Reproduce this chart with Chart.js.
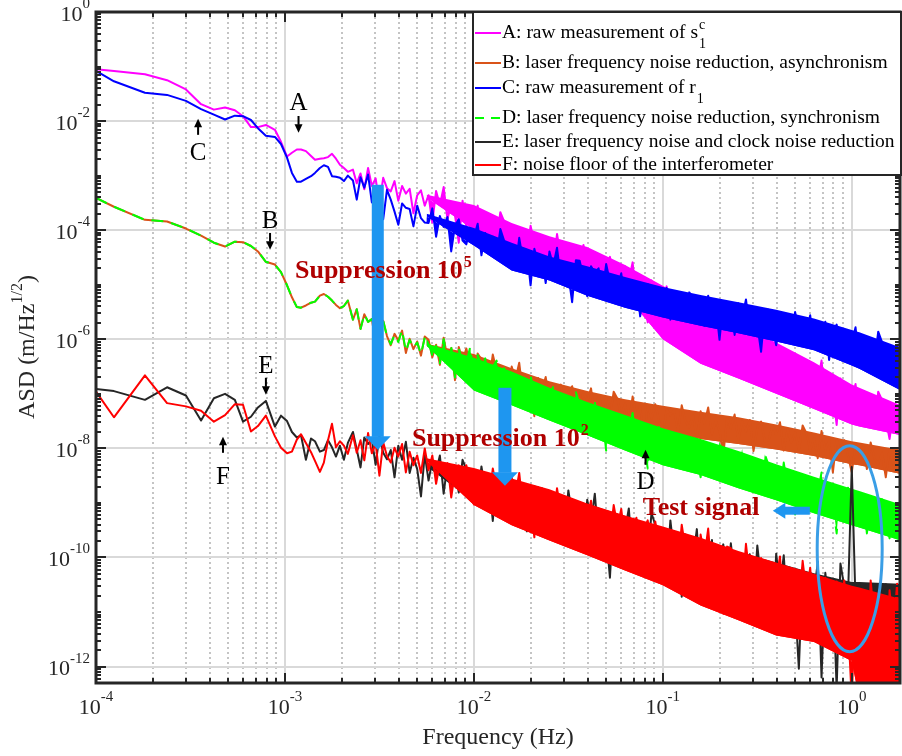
<!DOCTYPE html>
<html lang="en">
<head>
<meta charset="utf-8">
<title>ASD</title>
<script src="https://cdn.jsdelivr.net/npm/chart.js@4.4.1/dist/chart.umd.min.js"></script>
<style>
  html, body { margin: 0; padding: 0; background: #fff; }
  #grafica { display: block; }
</style>
</head>
<body>
<canvas id="grafica" width="902" height="756"></canvas>
<script>
// valores, en log10: frecuencia (Hz) y ASD (m/Hz^1/2)
const LOG_FREQ = [
  -4.000, -3.905, -3.741, -3.624, -3.524, -3.444, -3.376, -3.317, -3.265, -3.222,
  -3.180, -3.143, -3.101, -3.053, -3.021, -2.989, -2.963, -2.937, -2.915, -2.889,
  -2.862, -2.841, -2.815, -2.794, -2.772, -2.751, -2.730, -2.709, -2.688, -2.667,
  -2.64, -2.62, -2.60, -2.58, -2.56, -2.54, -2.52, -2.50, -2.48, -2.46,
  -2.44, -2.42, -2.40, -2.38, -2.36, -2.34, -2.32, -2.30, -2.28, -2.26,
  -2.24, -2.22, -2.20, -2.18, -2.16, -2.14, -2.12, -2.10, -2.08, -2.06,
  -2.04, -2.02, -2.00, -1.98, -1.96, -1.94, -1.92, -1.90, -1.88, -1.86,
  -1.84, -1.82, -1.80, -1.78, -1.76, -1.74, -1.72, -1.70, -1.68, -1.66,
  -1.64, -1.62, -1.60, -1.58, -1.56, -1.54, -1.52, -1.50, -1.48, -1.46,
  -1.44, -1.42, -1.40, -1.38, -1.36, -1.34, -1.32, -1.30, -1.28, -1.26,
  -1.24, -1.22, -1.20, -1.18, -1.16, -1.14, -1.12, -1.10, -1.08, -1.06,
  -1.04, -1.02, -1.00, -0.98, -0.96, -0.94, -0.92, -0.90, -0.88, -0.86,
  -0.84, -0.82, -0.80, -0.78, -0.76, -0.74, -0.72, -0.70, -0.68, -0.66,
  -0.64, -0.62, -0.60, -0.58, -0.56, -0.54, -0.52, -0.50, -0.48, -0.46,
  -0.44, -0.42, -0.40, -0.38, -0.36, -0.34, -0.32, -0.30, -0.28, -0.26,
  -0.24, -0.22, -0.20, -0.18, -0.16, -0.14, -0.12, -0.10, -0.08, -0.06,
  -0.04, -0.02, 0.00, 0.02, 0.04, 0.06, 0.08, 0.10, 0.12, 0.14,
  0.16, 0.18, 0.20, 0.22, 0.24, 0.26
];

// A: raw measurement of s1c
const LOG_A = [
  -1.05, -1.08, -1.14, -1.25, -1.42, -1.69, -1.79, -1.75, -1.80, -1.91,
  -2.11, -2.11, -2.07, -2.16, -2.38, -2.65, -2.58, -2.52, -2.52, -2.55,
  -2.64, -2.71, -2.69, -2.68, -2.66, -2.60, -2.69, -2.80, -2.86, -2.93,
  -2.89, -3.14, -2.96, -3.25, -2.86, -3.19, -3.05, -3.51, -3.04, -3.23,
  -3.29, -3.10, -3.46, -3.19, -3.33, -3.24, -3.69, -3.36, -3.27, -3.55,
  -3.36, -3.86, -3.28, -3.54, -3.21, -3.80, -3.52, -3.73, -4.23, -3.46,
  -3.93, -3.63, -3.80, -3.55, -4.13, -3.74, -4.01, -3.81, -4.17, -3.67,
  -3.84, -4.16, -4.49, -3.94, -4.06, -4.00, -4.46, -3.92, -4.24, -4.36,
  -4.12, -4.47, -4.22, -4.62, -4.07, -4.49, -4.29, -4.94, -4.27, -4.54,
  -4.54, -4.27, -4.79, -4.41, -4.61, -4.45, -5.08, -4.61, -4.49, -4.88,
  -4.74, -5.24, -4.66, -4.92, -4.59, -5.26, -4.98, -5.19, -5.69, -4.92,
  -5.45, -5.12, -5.31, -5.03, -5.67, -5.28, -5.58, -5.36, -5.76, -5.21,
  -5.45, -5.80, -6.17, -5.56, -5.69, -5.67, -6.18, -5.59, -5.94, -6.07,
  -5.83, -6.22, -5.94, -6.39, -5.78, -6.27, -6.05, -6.77, -6.03, -6.33,
  -6.38, -6.08, -6.65, -6.23, -6.45, -6.28, -6.98, -6.46, -6.33, -6.76,
  -6.56, -7.11, -6.47, -6.76, -6.39, -7.09, -6.78, -7.02, -7.57, -6.72,
  -7.24, -6.91, -7.10, -6.82, -7.46, -7.03, -7.33, -7.11, -7.51, -6.96,
  -7.11, -7.46, -7.83, -7.34, -7.47, -7.27
];

// B: laser frequency noise reduction, asynchronism
const LOG_B = [
  -3.41, -3.57, -3.81, -3.84, -3.97, -4.10, -4.23, -4.30, -4.21, -4.22,
  -4.29, -4.39, -4.58, -4.63, -4.77, -5.01, -5.23, -5.41, -5.42, -5.38,
  -5.33, -5.31, -5.20, -5.17, -5.22, -5.29, -5.37, -5.43, -5.39, -5.29,
  -5.64, -5.45, -5.81, -5.54, -5.68, -5.63, -6.08, -5.75, -5.66, -5.94,
  -6.11, -5.90, -6.02, -5.84, -6.25, -5.99, -6.18, -6.04, -6.30, -5.95,
  -6.01, -6.33, -6.10, -6.47, -5.97, -6.34, -6.16, -6.75, -6.14, -6.39,
  -6.17, -6.46, -6.76, -6.26, -6.37, -6.36, -6.77, -6.28, -6.57, -6.68,
  -6.57, -7.02, -6.50, -6.73, -6.43, -7.02, -6.77, -6.96, -7.41, -6.71,
  -6.94, -6.69, -7.16, -6.82, -7.00, -6.83, -7.40, -6.97, -6.86, -7.22,
  -7.24, -6.97, -7.13, -6.90, -7.42, -7.02, -7.27, -7.09, -7.41, -6.96,
  -7.09, -7.41, -7.18, -7.55, -7.05, -7.40, -7.22, -7.81, -7.20, -7.45,
  -7.19, -7.48, -7.78, -7.28, -7.39, -7.29, -7.70, -7.21, -7.50, -7.61,
  -7.39, -7.84, -7.32, -7.55, -7.25, -7.74, -7.49, -7.68, -8.13, -7.43,
  -7.63, -7.38, -7.85, -7.51, -7.69, -7.48, -8.05, -7.62, -7.51, -7.87,
  -7.86, -7.59, -7.75, -7.52, -8.04, -7.64, -7.89, -7.71, -8.03, -7.58,
  -7.72, -8.04, -7.81, -8.18, -7.68, -8.03, -7.85, -8.44, -7.83, -8.08,
  -7.85, -8.14, -8.44, -7.94, -8.05, -7.97, -8.38, -7.89, -8.18, -8.29,
  -8.08, -8.53, -8.01, -8.30, -8.00, -8.43
];

// C: raw measurement of r1
const LOG_C = [
  -1.08, -1.27, -1.48, -1.52, -1.63, -1.78, -1.88, -1.97, -1.90, -1.91,
  -1.98, -2.13, -2.27, -2.29, -2.42, -2.67, -2.95, -3.11, -3.11, -3.06,
  -3.01, -2.95, -2.86, -2.81, -2.84, -3.01, -3.02, -3.04, -3.10, -3.00,
  -3.09, -3.44, -3.03, -3.22, -2.98, -3.49, -3.30, -3.45, -3.80, -3.26,
  -3.44, -3.66, -3.90, -3.51, -3.59, -3.61, -3.93, -3.55, -3.78, -3.86,
  -3.87, -3.60, -4.12, -3.74, -3.94, -3.76, -4.39, -3.92, -3.80, -4.19,
  -4.26, -3.96, -4.13, -3.88, -4.46, -4.05, -4.32, -4.12, -4.48, -3.98,
  -4.19, -4.54, -4.29, -4.69, -4.14, -4.56, -4.36, -5.01, -4.34, -4.61,
  -4.47, -4.97, -4.39, -4.65, -4.32, -4.89, -4.61, -4.82, -5.32, -4.55,
  -4.56, -4.88, -5.21, -4.66, -4.78, -4.70, -5.16, -4.62, -4.94, -5.06,
  -5.06, -4.79, -5.31, -4.93, -5.13, -4.95, -5.58, -5.11, -4.99, -5.38,
  -5.44, -5.14, -5.31, -5.06, -5.64, -5.21, -5.48, -5.28, -5.64, -5.14,
  -5.25, -5.60, -5.35, -5.75, -5.20, -5.56, -5.36, -6.01, -5.34, -5.61,
  -5.42, -5.92, -5.34, -5.60, -5.27, -5.80, -5.52, -5.73, -6.23, -5.46,
  -5.46, -5.78, -6.11, -5.56, -5.68, -5.58, -6.04, -5.50, -5.82, -5.94,
  -5.86, -5.56, -6.13, -5.71, -5.93, -5.68, -6.38, -5.86, -5.73, -6.16,
  -6.20, -5.87, -6.06, -5.78, -6.42, -5.93, -6.23, -6.01, -6.41, -5.86,
  -6.05, -6.44, -6.16, -6.71, -6.10, -6.43
];

// D: laser frequency noise reduction, synchronism
const LOG_D = [
  -3.41, -3.57, -3.81, -3.84, -3.97, -4.10, -4.23, -4.30, -4.21, -4.22,
  -4.29, -4.39, -4.58, -4.63, -4.77, -5.01, -5.23, -5.41, -5.42, -5.38,
  -5.33, -5.31, -5.20, -5.17, -5.22, -5.29, -5.37, -5.43, -5.39, -5.29,
  -5.64, -5.45, -5.81, -5.54, -5.68, -5.63, -6.08, -5.75, -5.66, -5.94,
  -6.09, -5.92, -6.05, -5.83, -6.22, -6.01, -6.15, -6.06, -6.27, -5.97,
  -6.04, -6.30, -6.12, -6.44, -6.00, -6.37, -6.13, -6.70, -6.17, -6.42,
  -6.42, -6.15, -6.67, -6.29, -6.49, -6.35, -6.98, -6.51, -6.39, -6.78,
  -6.53, -6.85, -7.18, -6.63, -6.75, -6.75, -7.21, -6.67, -6.99, -7.11,
  -7.23, -6.93, -7.10, -6.85, -7.43, -7.04, -7.31, -7.11, -7.47, -6.97,
  -7.20, -7.55, -7.30, -7.70, -7.15, -7.59, -7.39, -8.04, -7.37, -7.64,
  -7.50, -8.00, -7.42, -7.68, -7.35, -7.94, -7.66, -7.87, -8.37, -7.60,
  -7.88, -7.61, -8.13, -7.75, -7.95, -7.75, -8.38, -7.91, -7.79, -8.18,
  -7.81, -8.16, -8.53, -7.92, -8.05, -7.95, -8.46, -7.87, -8.22, -8.35,
  -8.43, -8.10, -8.29, -8.01, -8.65, -8.18, -8.48, -8.26, -8.66, -8.11,
  -8.31, -8.70, -8.42, -8.87, -8.26, -8.71, -8.49, -9.21, -8.47, -8.77,
  -8.61, -9.16, -8.52, -8.81, -8.44, -9.08, -8.77, -9.01, -9.56, -8.71,
  -9.02, -8.72, -9.29, -8.87, -9.09, -8.86, -9.56, -9.04, -8.91, -9.34,
  -8.93, -9.28, -9.65, -9.12, -9.25, -9.05
];

// E: laser frequency noise and clock noise reduction (pico de la senal de prueba en 1 Hz)
const LOG_E = [
  -6.91, -6.95, -7.11, -6.88, -7.03, -7.49, -7.08, -7.00, -7.11, -7.51,
  -7.42, -7.25, -7.13, -7.60, -7.40, -7.50, -7.70, -7.80, -7.76, -8.21,
  -7.82, -7.87, -8.06, -8.03, -7.85, -7.98, -8.15, -7.95, -8.21, -7.90,
  -7.70, -8.02, -8.35, -7.80, -7.92, -7.84, -8.30, -7.76, -8.08, -8.20,
  -8.03, -8.53, -7.95, -8.21, -7.88, -8.45, -8.17, -8.38, -8.88, -8.11,
  -8.59, -8.23, -8.43, -8.13, -8.83, -8.29, -8.61, -8.37, -8.81, -8.21,
  -8.39, -8.81, -8.51, -8.99, -8.33, -8.79, -8.55, -9.33, -8.53, -8.85,
  -8.86, -8.48, -9.21, -8.68, -8.96, -8.64, -9.52, -8.86, -8.69, -9.24,
  -8.73, -9.18, -9.64, -8.87, -9.04, -8.89, -9.53, -8.77, -9.22, -9.39,
  -9.07, -9.87, -8.94, -9.36, -8.83, -9.68, -9.23, -9.57, -10.37, -9.14,
  -9.71, -9.23, -9.50, -9.10, -10.03, -9.30, -9.73, -9.41, -9.99, -9.19,
  -9.40, -10.00, -9.57, -10.26, -9.32, -9.95, -9.61, -10.72, -9.58, -10.04,
  -10.02, -9.48, -10.52, -9.76, -10.16, -9.68, -10.94, -10.00, -9.76, -10.54,
  -9.74, -10.38, -11.04, -9.94, -10.18, -9.94, -10.86, -9.78, -10.42, -10.66,
  -10.12, -11.32, -9.93, -10.55, -9.96, -11.01, -10.34, -10.84, -12.04, -10.19,
  -10.99, -10.27, -10.68, -10.08, -12.20, -10.28, -10.93, -10.45, -12.40, -10.11,
  -10.53, -10.74, -8.34, -10.83, -10.50, -10.68, -10.56, -10.95, -10.55, -10.71,
  -10.65, -10.49, -10.80, -10.57, -10.69, -10.51
];

// F: noise floor of the interferometer
const LOG_F = [
  -6.96, -7.43, -6.66, -7.17, -7.23, -7.31, -7.51, -7.39, -7.19, -7.20,
  -7.69, -7.59, -7.40, -7.78, -7.99, -8.09, -8.06, -7.84, -7.74, -7.90,
  -8.07, -8.23, -8.43, -8.26, -7.85, -7.55, -7.98, -7.87, -7.95, -8.10,
  -7.76, -8.08, -7.85, -8.22, -7.72, -8.09, -7.91, -8.50, -7.89, -8.14,
  -8.26, -7.99, -8.15, -7.92, -8.44, -8.06, -8.31, -8.13, -8.45, -8.00,
  -8.40, -8.13, -8.65, -8.27, -8.47, -8.27, -8.90, -8.43, -8.31, -8.70,
  -8.31, -8.66, -9.03, -8.42, -8.55, -8.45, -8.96, -8.37, -8.72, -8.85,
  -8.63, -9.23, -8.53, -8.85, -8.45, -9.11, -8.78, -9.03, -9.63, -8.71,
  -8.79, -9.21, -8.91, -9.39, -8.73, -9.19, -8.95, -9.73, -8.93, -9.25,
  -9.42, -9.06, -9.26, -8.96, -9.66, -9.12, -9.44, -9.20, -9.64, -9.04,
  -9.43, -9.11, -9.73, -9.27, -9.51, -9.27, -10.03, -9.47, -9.32, -9.79,
  -9.34, -9.79, -10.25, -9.48, -9.65, -9.52, -10.16, -9.40, -9.85, -10.02,
  -9.71, -10.51, -9.58, -10.00, -9.47, -10.34, -9.89, -10.23, -11.03, -9.80,
  -9.83, -10.43, -10.00, -10.69, -9.75, -10.38, -10.04, -11.15, -10.01, -10.47,
  -10.66, -10.12, -10.43, -9.98, -11.02, -10.19, -10.68, -10.32, -10.96, -10.06,
  -10.65, -10.19, -11.07, -10.42, -10.76, -10.37, -11.45, -10.65, -10.44, -11.11,
  -10.42, -11.19, -12.60, -10.66, -10.95, -10.62, -12.50, -10.42, -11.19, -12.40,
  -10.81, -12.60, -10.60, -11.34, -10.48, -12.50
];

// zona densa del ruido (borde superior / inferior), log10, sobre una rejilla gruesa
const LOG_FREQ_BANDA = [-2.25, -2.0, -1.8, -1.6, -1.4, -1.2, -1.0, -0.8, -0.6, -0.4, -0.2, 0.0, 0.04, 0.26];
const A_SUP = [-3.35, -3.54, -3.87, -4.11, -4.31, -4.64, -5.02, -5.42, -5.74, -6.06, -6.42, -6.83, -6.89, -7.21];
const A_INF = [-3.40, -3.99, -4.35, -4.54, -4.81, -5.18, -6.00, -6.45, -6.72, -7.00, -7.28, -7.56, -7.60, -7.76];
const B_SUP = [-6.08, -6.27, -6.53, -6.77, -6.95, -7.10, -7.22, -7.33, -7.43, -7.56, -7.71, -7.87, -7.89, -8.03];
const B_INF = [-6.12, -6.73, -7.01, -7.28, -7.47, -7.56, -7.69, -7.83, -7.92, -8.02, -8.14, -8.29, -8.31, -8.47];
const C_SUP = [-3.70, -3.96, -4.23, -4.48, -4.66, -4.86, -5.04, -5.19, -5.32, -5.46, -5.62, -5.83, -5.87, -6.15];
const C_INF = [-3.75, -4.28, -4.74, -4.92, -5.20, -5.42, -5.60, -5.75, -5.89, -6.04, -6.20, -6.48, -6.54, -6.94];
const D_SUP = [-6.08, -6.34, -6.59, -6.89, -7.15, -7.39, -7.63, -7.83, -8.05, -8.29, -8.52, -8.74, -8.78, -9.03];
const D_INF = [-6.12, -6.94, -7.21, -7.49, -7.76, -8.04, -8.31, -8.49, -8.73, -8.95, -9.19, -9.41, -9.45, -9.69];
const E_SUP = [-8.28, -8.39, -8.59, -8.80, -9.02, -9.24, -9.46, -9.67, -9.90, -10.09, -10.29, -10.45, -10.45, -10.48];
const E_INF = [-8.33, -8.98, -9.35, -9.63, -9.90, -10.18, -10.45, -10.82, -11.09, -11.37, -11.49, -10.80, -10.80, -10.80];
const F_SUP = [-8.18, -8.36, -8.55, -8.75, -9.01, -9.23, -9.43, -9.64, -9.88, -10.09, -10.30, -10.52, -10.55, -10.76];
const F_INF = [-8.23, -9.04, -9.41, -9.69, -9.96, -10.24, -10.51, -10.88, -11.15, -11.43, -11.55, -11.90, -12.60, -12.60];

const X_TICKS = [1e-4, 1e-3, 1e-2, 1e-1, 1];
const Y_TICKS = [1e-12, 1e-10, 1e-8, 1e-6, 1e-4, 1e-2, 1];

const NOMBRES = ['A', 'B', 'C', 'D', 'E', 'F'];
const COLORES = ['#ff00ff', '#d95319', '#0000ff', '#00ff00', '#262626', '#ff0000'];
const LEYENDA = [
  { texto: 'A: raw measurement of s', sup: 'c', sub: '1' },
  { texto: 'B: laser frequency noise reduction, asynchronism' },
  { texto: 'C: raw measurement of r', sub: '1' },
  { texto: 'D: laser frequency noise reduction, synchronism' },
  { texto: 'E: laser frequency noise and clock noise reduction' },
  { texto: 'F: noise floor of the interferometer' }
];
const FILAS_Y = [33, 63, 88, 118, 142, 165];

const SERIF = '"Liberation Serif", "Times New Roman", serif';

function puntos(frecs, logs) {
  return frecs.map((lf, i) => ({ x: Math.pow(10, lf), y: Math.pow(10, logs[i]) }));
}

function linea(ctx, x1, y1, x2, y2) {
  ctx.beginPath();
  ctx.moveTo(x1, y1);
  ctx.lineTo(x2, y2);
  ctx.stroke();
}

// todas las marcas m*10^d dentro del rango
function menores(min, max) {
  const out = [];
  for (let d = Math.floor(Math.log10(min)); d <= Math.ceil(Math.log10(max)); d++) {
    for (let m = 1; m <= 9; m++) {
      const v = m * Math.pow(10, d);
      if (v >= min * 0.999 && v <= max * 1.001) out.push({ v: v, m: m });
    }
  }
  return out;
}

function flecha(ctx, x1, y1, x2, y2, grosor, cabeza, largo, color) {
  const ang = Math.atan2(y2 - y1, x2 - x1);
  const len = Math.hypot(x2 - x1, y2 - y1);
  ctx.save();
  ctx.translate(x1, y1);
  ctx.rotate(ang);
  ctx.fillStyle = color;
  ctx.fillRect(0, -grosor / 2, len - largo, grosor);
  ctx.beginPath();
  ctx.moveTo(len - largo - 0.5, -cabeza / 2);
  ctx.lineTo(len, 0);
  ctx.lineTo(len - largo - 0.5, cabeza / 2);
  ctx.closePath();
  ctx.fill();
  ctx.restore();
}

// "10" con exponente, y = centro del "10"
function potencia(ctx, exp, x, y, align) {
  ctx.font = '22px ' + SERIF;
  const w1 = ctx.measureText('10').width;
  ctx.font = '15px ' + SERIF;
  const w2 = ctx.measureText(exp).width;
  const x0 = align === 'right' ? x - w1 - w2 : x - (w1 + w2) / 2;
  ctx.textAlign = 'left';
  ctx.textBaseline = 'middle';
  ctx.font = '22px ' + SERIF;
  ctx.fillText('10', x0, y);
  ctx.font = '15px ' + SERIF;
  ctx.fillText(exp, x0 + w1, y - 11);
}

function conExponente(ctx, base, exp, x, y, size, supSize, rise, peso) {
  ctx.textAlign = 'left';
  ctx.textBaseline = 'alphabetic';
  ctx.font = peso + size + 'px ' + SERIF;
  ctx.fillText(base, x, y);
  const w = ctx.measureText(base).width;
  ctx.font = peso + supSize + 'px ' + SERIF;
  ctx.fillText(exp, x + w + 1, y - rise);
}

const ejes = {
  id: 'ejes',
  beforeDatasetsDraw(chart) {
    const { ctx, chartArea: a, scales: { x, y } } = chart;
    ctx.save();
    ctx.lineWidth = 2;
    ctx.strokeStyle = '#c4c4c4';
    ctx.setLineDash([2, 3]);
    menores(1e-4, 1.8).filter(t => t.m > 1).forEach(t => {
      const p = Math.round(x.getPixelForValue(t.v));
      linea(ctx, p, a.top, p, a.bottom);
    });
    ctx.setLineDash([]);
    ctx.strokeStyle = '#d9d9d9';
    X_TICKS.forEach(v => {
      const p = Math.round(x.getPixelForValue(v));
      linea(ctx, p, a.top, p, a.bottom);
    });
    Y_TICKS.forEach(v => {
      const p = Math.round(y.getPixelForValue(v));
      linea(ctx, a.left, p, a.right, p);
    });
    ctx.restore();
  },
  afterDatasetsDraw(chart) {
    const { ctx, chartArea: a, scales: { x, y } } = chart;
    const px = v => x.getPixelForValue(v);
    const py = v => y.getPixelForValue(v);
    ctx.save();

    // caja y marcas
    ctx.strokeStyle = '#262626';
    ctx.lineWidth = 3;
    ctx.strokeRect(a.left, a.top, a.right - a.left, a.bottom - a.top);
    ctx.lineWidth = 2;
    menores(1e-4, 1.8).forEach(t => {
      const p = Math.round(px(t.v));
      const l = t.m === 1 ? 10 : 5;
      linea(ctx, p, a.bottom, p, a.bottom - l);
      linea(ctx, p, a.top, p, a.top + l);
    });
    menores(5e-13, 1).forEach(t => {
      const p = Math.round(py(t.v));
      const l = Y_TICKS.includes(t.v) ? 10 : 5;
      linea(ctx, a.left, p, a.left + l, p);
      linea(ctx, a.right, p, a.right - l, p);
    });

    // etiquetas de los ejes
    ctx.fillStyle = '#262626';
    X_TICKS.forEach(v => potencia(ctx, String(Math.round(Math.log10(v))), px(v), 708, 'center'));
    Y_TICKS.forEach(v => potencia(ctx, String(Math.round(Math.log10(v))), 90, py(v) + 3, 'right'));

    ctx.font = '24px ' + SERIF;
    ctx.textAlign = 'center';
    ctx.textBaseline = 'middle';
    ctx.fillText('Frequency (Hz)', (a.left + a.right) / 2, 738);

    ctx.save();
    ctx.translate(28, 347);
    ctx.rotate(-Math.PI / 2);
    ctx.font = '24px ' + SERIF;
    const w1 = ctx.measureText('ASD (m/Hz').width;
    ctx.font = '16px ' + SERIF;
    const w2 = ctx.measureText('1/2').width;
    ctx.font = '24px ' + SERIF;
    const w3 = ctx.measureText(')').width;
    const x0 = -(w1 + w2 + w3) / 2;
    ctx.textAlign = 'left';
    ctx.fillText('ASD (m/Hz', x0, 0);
    ctx.font = '16px ' + SERIF;
    ctx.fillText('1/2', x0 + w1, -10);
    ctx.font = '24px ' + SERIF;
    ctx.fillText(')', x0 + w1 + w2, 0);
    ctx.restore();

    // flechas azules y elipse
    const azul = '#1e96f0';
    flecha(ctx, px(3.1e-3), py(6.8e-4), px(3.1e-3), py(9.4e-9), 12, 26, 13, azul);
    flecha(ctx, px(1.46e-2), py(1.29e-7), px(1.46e-2), py(2.07e-9), 13, 26, 13, azul);
    flecha(ctx, px(0.60), py(7.2e-10), px(0.382), py(7.2e-10), 8, 16, 12, azul);
    ctx.strokeStyle = '#3a9ee6';
    ctx.lineWidth = 3;
    ctx.beginPath();
    ctx.ellipse(px(0.975), py(1.45e-10), 32.5, 103, 0, 0, Math.PI * 2);
    ctx.stroke();

    // textos rojos
    ctx.fillStyle = '#b00000';
    conExponente(ctx, 'Suppression 10', '5', px(1.13e-3), py(1.34e-5), 26, 16, 11, 'bold ');
    conExponente(ctx, 'Suppression 10', '2', px(4.70e-3), py(1.12e-8), 26, 16, 11, 'bold ');
    ctx.font = 'bold 26px ' + SERIF;
    ctx.textAlign = 'left';
    ctx.textBaseline = 'alphabetic';
    ctx.fillText('Test signal', px(7.83e-2), py(6.1e-10));

    // letras con flechitas negras
    const notas = [
      { t: 'A', f: 1.18e-3, v: 2.15e-2, de: 1.24e-2, a: 6.1e-3 },
      { t: 'C', f: 3.47e-4, v: 2.6e-3, de: 5.6e-3, a: 1.1e-2 },
      { t: 'B', f: 8.34e-4, v: 1.42e-4, de: 8.9e-5, a: 4.4e-5 },
      { t: 'E', f: 7.93e-4, v: 3.13e-7, de: 1.97e-7, a: 9.6e-8 },
      { t: 'F', f: 4.70e-4, v: 2.9e-9, de: 8.3e-9, a: 1.63e-8 },
      { t: 'D', f: 8.1e-2, v: 2.35e-9, de: 5.0e-9, a: 9.45e-9 }
    ];
    ctx.fillStyle = '#000';
    ctx.font = '25px ' + SERIF;
    ctx.textAlign = 'center';
    ctx.textBaseline = 'middle';
    notas.forEach(n => {
      ctx.fillText(n.t, px(n.f), py(n.v));
      flecha(ctx, px(n.f), py(n.de), px(n.f), py(n.a), 2, 8, 8, '#000');
    });

    // leyenda
    ctx.fillStyle = '#fff';
    ctx.fillRect(473, 12, 428, 163);
    ctx.strokeStyle = '#262626';
    ctx.lineWidth = 2;
    ctx.strokeRect(473, 12, 428, 163);
    LEYENDA.forEach((fila, i) => {
      const yy = FILAS_Y[i];
      ctx.strokeStyle = COLORES[i];
      ctx.lineWidth = 2;
      ctx.setLineDash(i === 3 ? [9, 7] : []);
      linea(ctx, 475, yy, 501, yy);
      ctx.setLineDash([]);
      ctx.fillStyle = '#000';
      ctx.textAlign = 'left';
      ctx.textBaseline = 'middle';
      ctx.font = '19.5px ' + SERIF;
      ctx.fillText(fila.texto, 502, yy);
      const w = ctx.measureText(fila.texto).width;
      ctx.font = '14px ' + SERIF;
      if (fila.sup) ctx.fillText(fila.sup, 503 + w, yy - 8);
      if (fila.sub) ctx.fillText(fila.sub, 503 + w, yy + 11);
    });

    ctx.restore();
  }
};

const SERIES = [LOG_A, LOG_B, LOG_C, LOG_D, LOG_E, LOG_F];
const BANDAS = [[A_SUP, A_INF], [B_SUP, B_INF], [C_SUP, C_INF], [D_SUP, D_INF], [E_SUP, E_INF], [F_SUP, F_INF]];

// por serie: linea (rellena hasta el borde inferior de su zona densa), borde superior, borde inferior
const datasets = [];
SERIES.forEach((serie, i) => {
  datasets.push({
    label: NOMBRES[i],
    data: puntos(LOG_FREQ, serie),
    borderColor: COLORES[i],
    backgroundColor: COLORES[i],
    borderWidth: 2,
    borderDash: i === 3 ? [12, 8] : [],
    borderJoinStyle: 'round',
    pointRadius: 0,
    fill: i === 4 ? false : '+2',
    tension: 0,
    order: 6 - i
  });
  datasets.push({
    label: NOMBRES[i] + ' sup',
    data: puntos(LOG_FREQ_BANDA, BANDAS[i][0]),
    borderWidth: 0,
    borderColor: 'transparent',
    backgroundColor: COLORES[i],
    pointRadius: 0,
    fill: '+1',
    order: 6 - i + 0.5
  });
  datasets.push({
    label: NOMBRES[i] + ' inf',
    data: puntos(LOG_FREQ_BANDA, BANDAS[i][1]),
    borderWidth: 0,
    borderColor: 'transparent',
    pointRadius: 0,
    fill: false,
    order: 6 - i + 0.5
  });
});

const grafica = new Chart(document.getElementById('grafica').getContext('2d'), {
  type: 'line',
  data: { datasets: datasets },
  options: {
    responsive: false,
    animation: false,
    parsing: false,
    normalized: true,
    layout: { padding: { top: 12, right: 2, left: 0, bottom: 0 } },
    plugins: { legend: { display: false }, tooltip: { enabled: false } },
    scales: {
      x: {
        type: 'logarithmic',
        min: 1e-4,
        max: 1.8,
        grid: { display: false },
        border: { display: false },
        ticks: { display: false },
        afterFit: s => { s.height = 73; }
      },
      y: {
        type: 'logarithmic',
        min: 5e-13,
        max: 1,
        grid: { display: false },
        border: { display: false },
        ticks: { display: false },
        afterFit: s => { s.width = 96; }
      }
    }
  },
  plugins: [ejes]
});
</script>
</body>
</html>
